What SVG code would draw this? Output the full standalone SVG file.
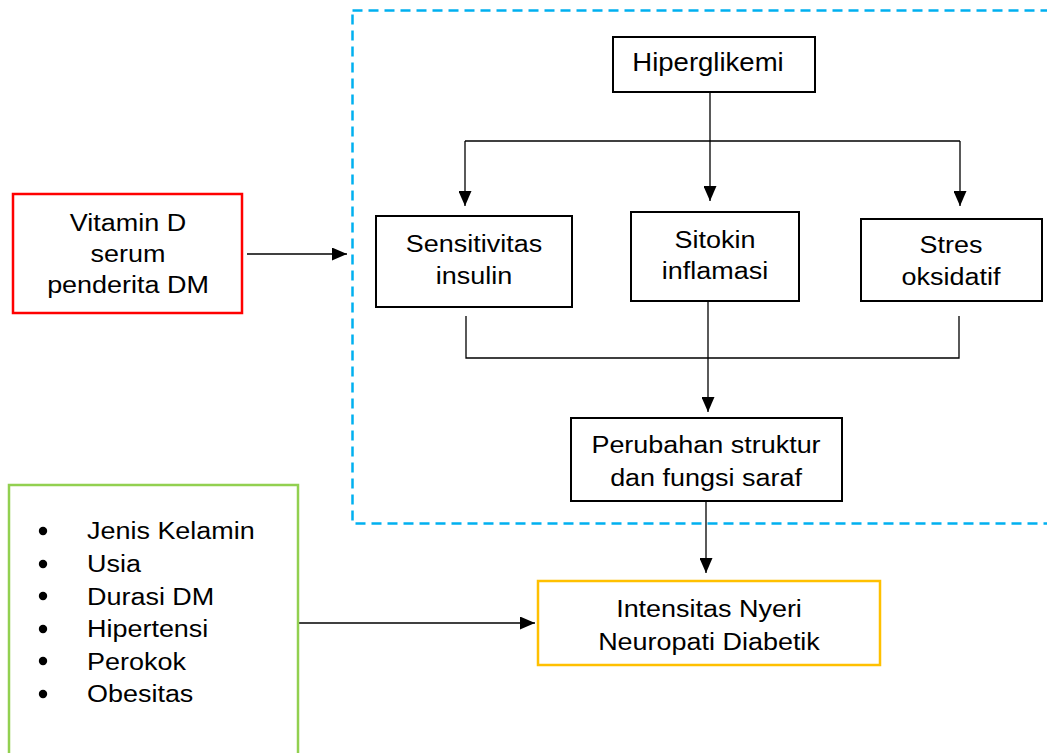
<svg xmlns="http://www.w3.org/2000/svg" width="1047" height="753" viewBox="0 0 1047 753">
<style>
text{font-family:"Liberation Sans",Arial,sans-serif;font-size:24.5px;fill:#000;text-anchor:middle}
.l{text-anchor:start}
.box{fill:#fff;stroke:#000;stroke-width:2}
.ln{fill:none;stroke:#000;stroke-width:1.3}
</style>
<defs>
<marker id="ah" markerWidth="15" markerHeight="13" refX="15" refY="6.5" orient="auto" markerUnits="userSpaceOnUse">
<path d="M0,0 L15,6.5 L0,13 Z" fill="#000"/>
</marker>
</defs>
<rect width="1047" height="753" fill="#fff"/>
<rect id="group-boundary" x="352.5" y="10.5" width="710" height="513" fill="none" stroke="#00B0F0" stroke-width="2.5" stroke-dasharray="10,6"/>

<g id="connectors">
<path class="ln" d="M710,92 V201" marker-end="url(#ah)"/>
<path class="ln" d="M465,141 H960"/>
<path class="ln" d="M465,141 V206" marker-end="url(#ah)"/>
<path class="ln" d="M960,141 V206" marker-end="url(#ah)"/>
<path class="ln" d="M466,316 V358 H959 V316"/>
<path class="ln" d="M708,301 V412" marker-end="url(#ah)"/>
<path class="ln" d="M706,501 V573" marker-end="url(#ah)"/>
<path class="ln" d="M247,254 H347" marker-end="url(#ah)"/>
<path class="ln" d="M298,623 H535" marker-end="url(#ah)"/>
</g>

<g id="hiperglikemi">
<rect class="box" x="613" y="37" width="202" height="55"/>
<text transform="translate(708,0) scale(1.08,1)" x="0" y="71" style="font-size:25.5px">Hiperglikemi</text>
</g>

<g id="vitamin-d">
<rect x="13" y="194" width="229" height="119" fill="#fff" stroke="#FF0000" stroke-width="2.5"/>
<text transform="translate(128,0) scale(1.1,1)" x="0" y="231">Vitamin D</text>
<text transform="translate(128,0) scale(1.1,1)" x="0" y="262">serum</text>
<text transform="translate(128,0) scale(1.1,1)" x="0" y="293">penderita DM</text>
</g>

<g id="sensitivitas">
<rect class="box" x="376" y="216" width="196" height="91"/>
<text transform="translate(474,0) scale(1.1,1)" x="0" y="252">Sensitivitas</text>
<text transform="translate(474,0) scale(1.1,1)" x="0" y="284">insulin</text>
</g>

<g id="sitokin">
<rect class="box" x="631" y="212" width="168" height="89"/>
<text transform="translate(715,0) scale(1.1,1)" x="0" y="248">Sitokin</text>
<text transform="translate(715,0) scale(1.1,1)" x="0" y="279">inflamasi</text>
</g>

<g id="stres">
<rect class="box" x="861" y="219" width="181" height="82"/>
<text transform="translate(951,0) scale(1.1,1)" x="0" y="253">Stres</text>
<text transform="translate(951,0) scale(1.1,1)" x="0" y="285">oksidatif</text>
</g>

<g id="perubahan">
<rect class="box" x="571" y="418" width="271" height="83"/>
<text transform="translate(706,0) scale(1.1,1)" x="0" y="453">Perubahan struktur</text>
<text transform="translate(706,0) scale(1.1,1)" x="0" y="486">dan fungsi saraf</text>
</g>

<g id="intensitas">
<rect x="538" y="581" width="342" height="84" fill="#fff" stroke="#FFC000" stroke-width="2.5"/>
<text transform="translate(709,0) scale(1.1,1)" x="0" y="617">Intensitas Nyeri</text>
<text transform="translate(709,0) scale(1.1,1)" x="0" y="650">Neuropati Diabetik</text>
</g>

<g id="faktor">
<rect x="9" y="485" width="289" height="280" fill="#fff" stroke="#92D050" stroke-width="2.5"/>
<g fill="#000">
<circle cx="43" cy="531" r="4.2"/>
<circle cx="43" cy="564" r="4.2"/>
<circle cx="43" cy="596" r="4.2"/>
<circle cx="43" cy="629" r="4.2"/>
<circle cx="43" cy="661" r="4.2"/>
<circle cx="43" cy="694" r="4.2"/>
</g>
<text class="l" transform="translate(87,0) scale(1.1,1)" x="0" y="539">Jenis Kelamin</text>
<text class="l" transform="translate(87,0) scale(1.1,1)" x="0" y="572">Usia</text>
<text class="l" transform="translate(87,0) scale(1.1,1)" x="0" y="605">Durasi DM</text>
<text class="l" transform="translate(87,0) scale(1.1,1)" x="0" y="637">Hipertensi</text>
<text class="l" transform="translate(87,0) scale(1.1,1)" x="0" y="670">Perokok</text>
<text class="l" transform="translate(87,0) scale(1.1,1)" x="0" y="702">Obesitas</text>
</g>
</svg>
